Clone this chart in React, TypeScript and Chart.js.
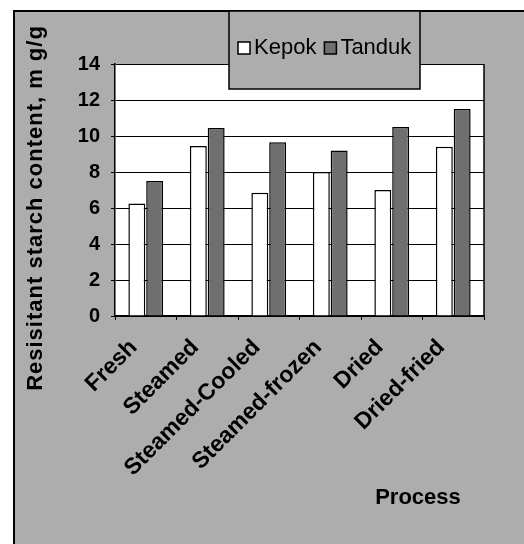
import React, { useEffect, useRef } from "react";
import { Chart, registerables } from "chart.js";

Chart.register(...registerables);

const categories = ["Fresh", "Steamed", "Steamed-Cooled", "Steamed-frozen", "Dried", "Dried-fried"];
const kepok = [6.25, 9.45, 6.85, 8.0, 7.0, 9.4];
const tanduk = [7.5, 10.45, 9.65, 9.2, 10.5, 11.5];
const seriesNames = ["Kepok", "Tanduk"];
const yTitle = "Resisitant starch content, m g/g";
const xTitle = "Process";

const FONT = "'Liberation Sans', Arial, sans-serif";
const BG = "#adadad";
const DARK = "#6f6f6f";

const decor = {
  id: "decor",
  beforeDraw(chart: any) {
    const { ctx, width, height, chartArea } = chart;
    ctx.save();
    ctx.fillStyle = "#ffffff";
    ctx.fillRect(0, 0, width, height);
    ctx.fillStyle = BG;
    ctx.fillRect(13, 10, width - 13, height - 10);
    ctx.strokeStyle = "#000";
    ctx.lineWidth = 2;
    ctx.beginPath();
    ctx.moveTo(14, height);
    ctx.lineTo(14, 11);
    ctx.lineTo(width, 11);
    ctx.stroke();
    ctx.fillStyle = "#ffffff";
    ctx.fillRect(chartArea.left, chartArea.top, chartArea.right - chartArea.left, chartArea.bottom - chartArea.top);
    ctx.restore();
  },
  afterDraw(chart: any) {
    const { ctx, chartArea } = chart;
    ctx.save();
    ctx.strokeStyle = "#000";
    ctx.lineWidth = 1.5;
    ctx.beginPath();
    ctx.moveTo(chartArea.right, chartArea.top);
    ctx.lineTo(chartArea.right, chartArea.bottom);
    ctx.stroke();

    // legend box
    const lx = 229, ly = 11, lw = 191, lh = 78;
    ctx.fillStyle = BG;
    ctx.fillRect(lx, ly, lw, lh);
    ctx.lineWidth = 1.5;
    ctx.strokeRect(lx, ly, lw, lh);
    ctx.save();
    ctx.beginPath();
    ctx.rect(lx, ly, lw, lh);
    ctx.clip();
    const ds = chart.data.datasets;
    let x = lx + 9;
    const cy = 48;
    ctx.font = `22px ${FONT}`;
    ctx.textBaseline = "middle";
    ctx.textAlign = "left";
    for (let i = 0; i < ds.length; i++) {
      ctx.fillStyle = ds[i].backgroundColor;
      ctx.fillRect(x, cy - 6, 12, 12);
      ctx.strokeStyle = "#000";
      ctx.lineWidth = 1.5;
      ctx.strokeRect(x, cy - 6, 12, 12);
      x += 16;
      ctx.fillStyle = "#000";
      ctx.fillText(ds[i].label, x, cy);
      x += ctx.measureText(ds[i].label).width + 8;
    }
    ctx.restore();

    // y title
    ctx.save();
    ctx.translate(36, 208);
    ctx.rotate(-Math.PI / 2);
    ctx.font = `bold 22px ${FONT}`;
    (ctx as any).letterSpacing = "1px";
    ctx.fillStyle = "#000";
    ctx.textAlign = "center";
    ctx.textBaseline = "middle";
    ctx.fillText(yTitle, 0, 0);
    ctx.restore();

    // x title
    ctx.font = `bold 22px ${FONT}`;
    ctx.fillStyle = "#000";
    ctx.textAlign = "center";
    ctx.textBaseline = "middle";
    ctx.fillText(xTitle, 418, 498);
    ctx.restore();
  },
};

export default function App() {
  const ref = useRef<HTMLCanvasElement>(null);
  useEffect(() => {
    document.body.style.margin = "0";
    const chart = new Chart(ref.current!, {
      type: "bar",
      data: {
        labels: categories,
        datasets: [
          {
            label: seriesNames[0],
            data: kepok,
            backgroundColor: "#ffffff",
            borderColor: "#000",
            borderWidth: 1.5,
            categoryPercentage: 0.58,
            barPercentage: 0.95,
          },
          {
            label: seriesNames[1],
            data: tanduk,
            backgroundColor: DARK,
            borderColor: "#000",
            borderWidth: 1.5,
            categoryPercentage: 0.58,
            barPercentage: 0.95,
          },
        ],
      },
      options: {
        responsive: false,
        animation: false,
        devicePixelRatio: 1,
        layout: { padding: { top: 64, right: 40, left: 0, bottom: 0 } },
        plugins: { legend: { display: false }, tooltip: { enabled: false } },
        scales: {
          x: {
            afterFit(scale: any) {
              scale.height = 228;
            },
            grid: {
              offset: true,
              drawOnChartArea: false,
              drawTicks: true,
              tickLength: 4,
              color: "#000",
              lineWidth: 1,
            },
            border: { display: true, color: "#000", width: 1.5 },
            ticks: {
              autoSkip: false,
              maxRotation: 45,
              minRotation: 45,
              labelOffset: -12,
              padding: 14,
              color: "#000",
              font: { family: FONT, size: 23, weight: "bold" },
            },
          },
          y: {
            min: 0,
            max: 14,
            afterFit(scale: any) {
              scale.width = 115;
            },
            grid: { color: "#000", lineWidth: 1, tickLength: 4 },
            border: { display: true, color: "#000", width: 1.5 },
            ticks: {
              stepSize: 2,
              padding: 11,
              color: "#000",
              font: { family: FONT, size: 20, weight: "bold" },
            },
          },
        },
      },
      plugins: [decor],
    });
    return () => chart.destroy();
  }, []);
  return (
    <div style={{ position: "absolute", left: 0, top: 0 }}>
      <canvas ref={ref} width={524} height={544} style={{ display: "block" }} />
    </div>
  );
}
